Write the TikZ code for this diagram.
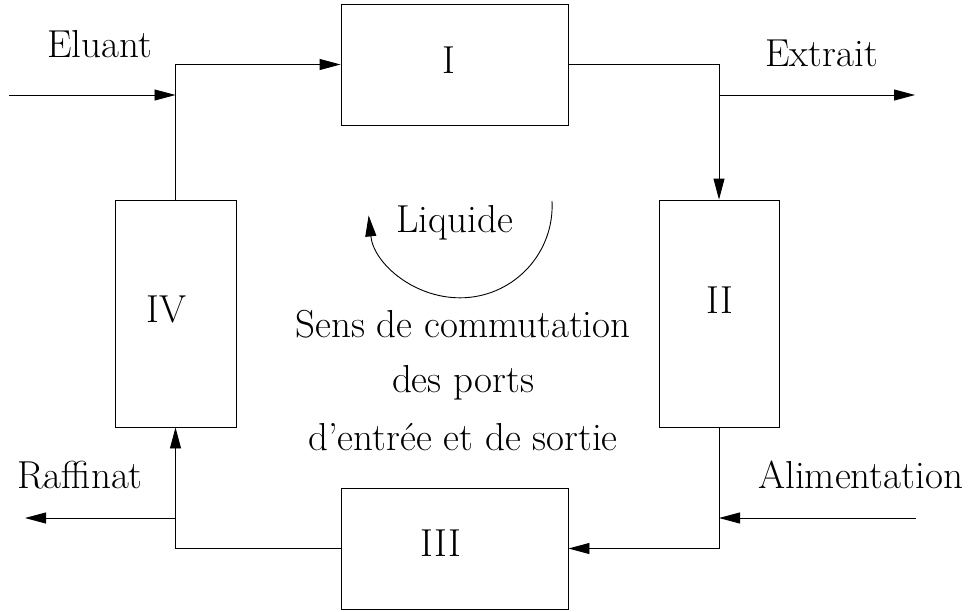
\documentclass[tikz,border=0pt]{standalone}
\usetikzlibrary{arrows.meta}
\begin{document}
\begin{tikzpicture}[x=1pt,y=-1pt,
  line width=0.9pt,
  box/.style={draw,rectangle,inner sep=0pt,line width=0.9pt},
  lbl/.style={anchor=base west,inner sep=0pt,font=\fontsize{39}{46}\selectfont},
  clbl/.style={anchor=base,inner sep=0pt,font=\fontsize{39}{46}\selectfont},
  arr/.style={-{Triangle[length=21pt,width=11pt]}}]
\useasboundingbox (0,0) rectangle (969,611);
% boxes
\node[box,minimum width=227pt,minimum height=121pt] (I) at (454.5,64.5) {};
\node[box,minimum width=120pt,minimum height=227pt] (II) at (719,313.5) {};
\node[box,minimum width=227pt,minimum height=121pt] (III) at (454.5,548.5) {};
\node[box,minimum width=121pt,minimum height=227pt] (IV) at (175.5,313.5) {};
% junction coordinates
\coordinate (e0) at (9,95);
\coordinate (j1) at (175.5,95);
\coordinate (j2) at (719,95);
\coordinate (x1) at (915,95);
\coordinate (a0) at (916,518);
\coordinate (j3) at (719,518);
\coordinate (j4) at (175.5,518);
\coordinate (r0) at (25,518);
% connectors
\draw[arr] (e0) -- (j1);
\draw[arr] (IV.north) |- (I.west);
\draw[arr] (I.east) -| (II.north);
\draw[arr] (j2) -- (x1);
\draw[arr] (II.south) |- (III.east);
\draw[arr] (a0) -- (j3);
\draw[arr] (III.west) -| (IV.south);
\draw[arr] (j4) -- (r0);
% rotation arc
\coordinate (c) at (460,206);
\draw[arr] (552,201) arc[start angle=-3,end angle=174,radius=92];
% labels
\node[lbl] (tEl) at (47,57) {Eluant};
\node[lbl] (tI) at (442,73) {I};
\node[lbl] (tEx) at (765,66) {Extrait};
\node[lbl] (tLi) at (396,232) {Liquide};
\node[lbl] (tIV) at (146,322) {IV};
\node[lbl] (tII) at (706,313) {II};
\node[clbl] (tS1) at (463,337) {Sens de commutation};
\node[clbl] (tS2) at (463,392) {des ports};
\node[clbl] (tS3) at (463,450) {d'entrée et de sortie};
\node[lbl] (tRa) at (17,488) {Raffinat};
\node[lbl] (tAl) at (758,488) {Alimentation};
\node[lbl] (tIII) at (420,556) {III};
\end{tikzpicture}
\end{document}
